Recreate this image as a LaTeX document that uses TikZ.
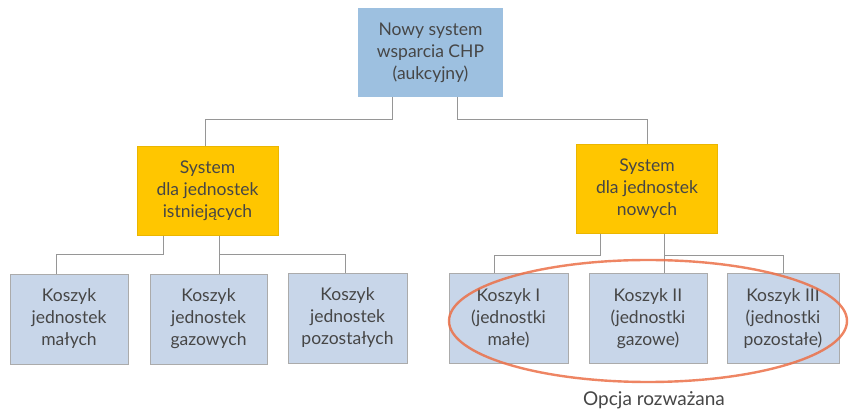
\documentclass[tikz,border=0pt]{standalone}
\usepackage{fontspec}
\usetikzlibrary{shapes.geometric}
\setmainfont{Lato}
\definecolor{topblue}{RGB}{157,192,224}
\definecolor{lowblue}{RGB}{200,214,233}
\definecolor{ygold}{RGB}{255,198,0}
\definecolor{linegray}{RGB}{150,150,150}
\definecolor{txtgray}{RGB}{70,70,70}
\definecolor{ringorange}{RGB}{236,112,72}
\begin{document}
\begin{tikzpicture}[x=1pt,y=-1pt,
  box/.style={rectangle, align=center, inner sep=0pt, text=txtgray,
    font=\fontsize{17.5}{22}\selectfont},
  topbox/.style={box, fill=topblue, minimum width=145pt, minimum height=89pt},
  midbox/.style={box, fill=ygold, draw=ygold!80!black!40!ygold, minimum width=141pt, minimum height=89pt},
  lowbox/.style={box, fill=lowblue, draw=linegray!80, line width=0.8pt, minimum height=90pt},
  conn/.style={draw=linegray, line width=0.9pt},
  ring/.style={draw=ringorange, line width=2.4pt, opacity=0.85}
]
\useasboundingbox[fill=white] (0,0) rectangle (849,411);

\node[topbox] (top) at (430.5,52.5) {Nowy system\\wsparcia CHP\\(aukcyjny)};
\node[midbox] (ly) at (207.5,191) {System\\dla jednostek\\istniejących};
\node[midbox] (ry) at (647,189) {System\\dla jednostek\\nowych};

\node[lowbox, minimum width=118pt] (l1) at (69,319) {Koszyk\\jednostek\\małych};
\node[lowbox, minimum width=117pt] (l2) at (208.5,319) {Koszyk\\jednostek\\gazowych};
\node[lowbox, minimum width=119pt] (l3) at (347.5,318) {Koszyk\\jednostek\\pozostałych};

\node[lowbox, minimum width=119pt] (r1) at (508.5,318.5) {Koszyk I\\(jednostki\\małe)};
\node[lowbox, minimum width=118pt] (r2) at (648,318.5) {Koszyk II\\(jednostki\\gazowe)};
\node[lowbox, minimum width=112pt] (r3) at (783,318.5) {Koszyk III\\(jednostki\\pozostałe)};

% connectors
\draw[conn] ([xshift=-38pt]top.south) -- ++(0,22) -| ([xshift=-2pt]ly.north);
\draw[conn] ([xshift=27pt]top.south) -- ++(0,22) -| (ry.north);

\draw[conn] ([xshift=-44pt]ly.south) -- ++(0,19) -| ([xshift=-13pt]l1.north);
\draw[conn] ([xshift=12pt]ly.south) -- ([xshift=11pt]l2.north);
\draw[conn] ([xshift=12pt]ly.south) ++(0,19) -| ([xshift=-2pt]l3.north);

\draw[conn] ([xshift=-47pt]ry.south) -- ++(0,22) -| ([xshift=-14pt]r1.north);
\draw[conn] ([xshift=17pt]ry.south) -- ([xshift=16pt]r2.north);
\draw[conn] ([xshift=17pt]ry.south) ++(0,22) -| (r3.north);

% ellipse
\node[ring, ellipse, minimum width=398pt, minimum height=122pt, inner sep=0pt] (oval) at (648,321) {};
\node[text=txtgray, font=\fontsize{19}{22}\selectfont, inner sep=0pt] (opt) at (654,400) {Opcja rozważana};
\end{tikzpicture}
\end{document}
